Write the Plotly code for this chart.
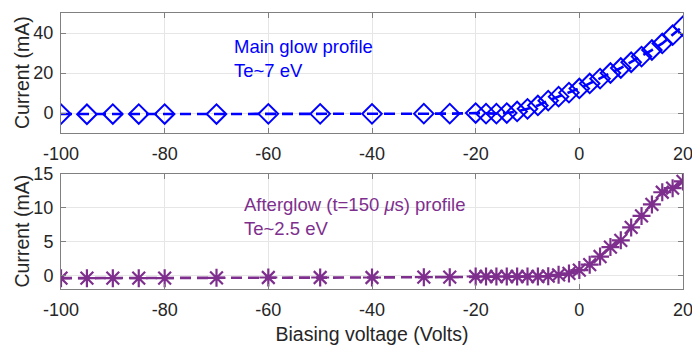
import plotly.graph_objects as go

# Biasing voltage (V)
voltage = [-100, -95, -90, -85, -80, -70, -60, -50, -40, -30, -25,
           -20, -18, -16, -14, -12, -10, -8, -6, -4, -2,
           0, 2, 4, 6, 8, 10, 12, 14, 16, 18, 20]

# Main glow current (mA)
main_glow = [-0.5, -0.6, -0.5, -0.5, -0.5, -0.5, -0.4, -0.4, -0.4, -0.3, -0.3,
             0.0, -0.3, -0.3, 0.0, 0.8, 2.1, 3.8, 6.2, 8.2, 10.2,
             12.3, 14.8, 17.2, 20.0, 22.5, 25.4, 28.2, 31.5, 34.8, 38.9, 43.4]

# Afterglow current (mA)
afterglow = [-0.4, -0.4, -0.4, -0.4, -0.4, -0.35, -0.3, -0.3, -0.3, -0.25, -0.25,
             -0.15, -0.15, -0.15, -0.15, -0.15, -0.15, -0.15, -0.1, 0.1, 0.3,
             0.8, 1.6, 2.8, 4.2, 5.2, 7.1, 8.8, 10.5, 12.3, 12.9, 13.9]

x_ticks = [-100, -80, -60, -40, -20, 0, 20]
x_tick_text = ["-100", "-80", "-60", "-40", "-20", "0", "20"]
y1_ticks = [0, 20, 40]
y2_ticks = [0, 5, 10, 15]

BLUE = "#0000FF"
PURPLE = "#7E2F8E"
TXT = "#262626"
FONT = "Arial, Liberation Sans, sans-serif"

fig = go.Figure()
fig.add_trace(go.Scatter(
    x=voltage, y=main_glow, mode="lines+markers", xaxis="x", yaxis="y",
    line=dict(color=BLUE, width=2.6, dash="11px,6px"),
    marker=dict(symbol="diamond-open", size=15, color=BLUE, line=dict(width=2, color=BLUE)),
    showlegend=False))
fig.add_trace(go.Scatter(
    x=voltage, y=afterglow, mode="lines+markers", xaxis="x2", yaxis="y2",
    line=dict(color=PURPLE, width=2.6, dash="11px,6px"),
    marker=dict(symbol="asterisk-open", size=15, color=PURPLE, line=dict(width=2.2, color=PURPLE)),
    showlegend=False))

axis_common = dict(
    showline=True, linecolor="#808080", linewidth=1, mirror="ticks",
    ticks="inside", ticklen=5, tickcolor="#808080",
    showgrid=True, gridcolor="#E6E6E6", gridwidth=1, zeroline=False,
    tickfont=dict(family=FONT, size=18, color=TXT), automargin=False,
)

fig.update_layout(
    width=692, height=345,
    margin=dict(l=61, r=9, t=13, b=56),
    paper_bgcolor="white", plot_bgcolor="white",
    font=dict(family=FONT, color=TXT),
    xaxis=dict(domain=[0, 1], anchor="y", range=[-100, 20], tickvals=x_ticks, ticktext=x_tick_text,
               ticklabelstandoff=4, ticklabeloverflow="allow", **axis_common),
    yaxis=dict(domain=[0.565, 1], anchor="x", range=[-10, 50], tickvals=y1_ticks,
               ticklabelstandoff=3, **axis_common),
    xaxis2=dict(domain=[0, 1], anchor="y2", range=[-100, 20], tickvals=x_ticks, ticktext=x_tick_text,
                ticklabelstandoff=4, ticklabeloverflow="allow",
                title=dict(text="Biasing voltage (Volts)", font=dict(family=FONT, size=19.5, color=TXT), standoff=9),
                **axis_common),
    yaxis2=dict(domain=[0, 0.4167], anchor="x2", range=[-2, 15], tickvals=y2_ticks,
                ticklabelstandoff=3, ticklabeloverflow="allow", **axis_common),
    annotations=[
        dict(text="Current (mA)", x=-0.0627, y=0.7825, xref="paper", yref="paper",
             xanchor="center", yanchor="middle", textangle=-90, showarrow=False,
             font=dict(family=FONT, size=19.5, color=TXT)),
        dict(text="Current (mA)", x=-0.0627, y=0.2083, xref="paper", yref="paper",
             xanchor="center", yanchor="middle", textangle=-90, showarrow=False,
             font=dict(family=FONT, size=19.5, color=TXT)),
        dict(text="Main glow profile<br>Te~7 eV", x=-67, y=27.5, xref="x", yref="y",
             xanchor="left", yanchor="middle", align="left", showarrow=False,
             font=dict(family=FONT, size=18.5, color=BLUE)),
        dict(text="Afterglow (t=150 <i>μ</i>s) profile<br>Te~2.5 eV", x=-65, y=8.7, xref="x2", yref="y2",
             xanchor="left", yanchor="middle", align="left", showarrow=False,
             font=dict(family=FONT, size=18.5, color=PURPLE)),
    ],
)

fig.write_html("out.html")
